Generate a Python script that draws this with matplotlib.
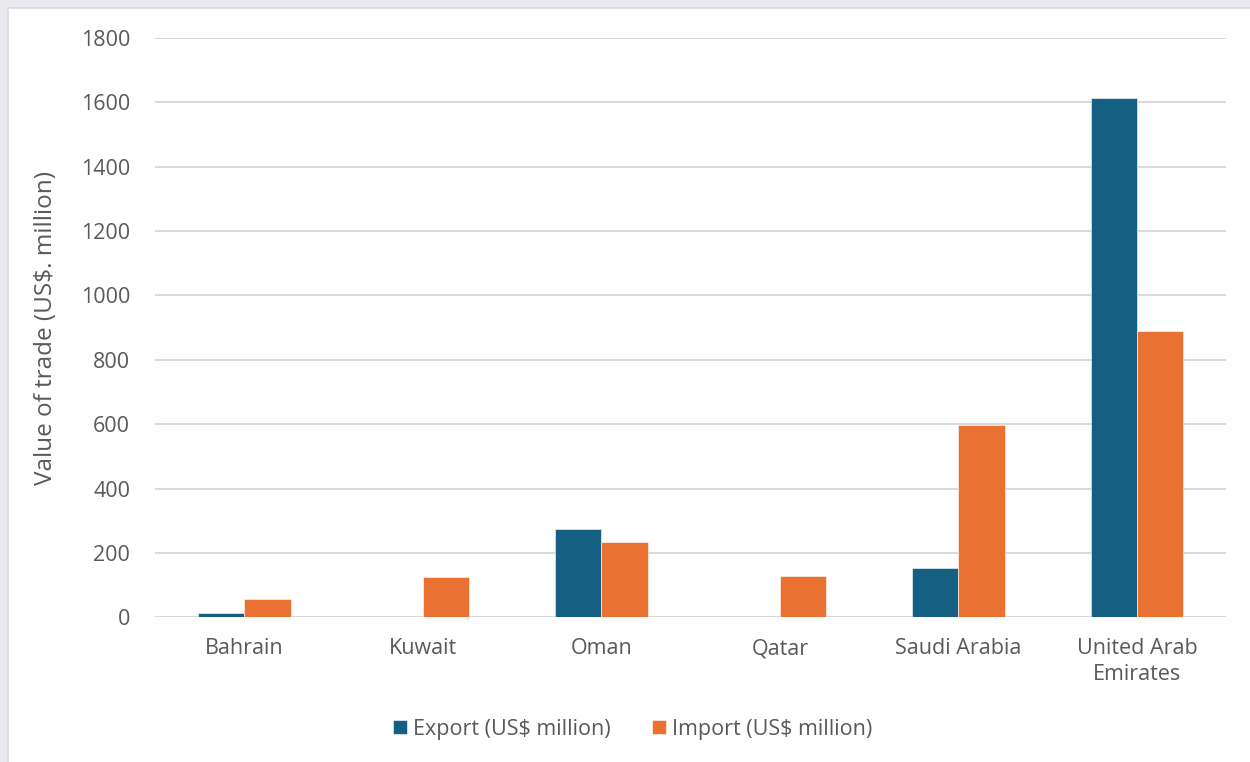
import matplotlib.pyplot as plt
import numpy as np
from matplotlib.patches import Rectangle

countries = ["Bahrain", "Kuwait", "Oman", "Qatar", "Saudi Arabia", "United Arab\nEmirates"]
exports = [12, 2, 273, 2, 153, 1615]
imports = [58, 124, 235, 128, 596, 891]
yticks = [0, 200, 400, 600, 800, 1000, 1200, 1400, 1600, 1800]

BLUE, ORANGE, TXT, GRID = "#156082", "#E97132", "#595959", "#d9d9d9"
plt.rcParams["font.family"] = ["Open Sans", "DejaVu Sans"]

fig = plt.figure(figsize=(12.5, 7.62), dpi=100, facecolor="#e9eaed")
# white panel inside the light grey frame
fig.add_artist(Rectangle((8 / 1250, -0.01), 1, 1.01 - 8 / 762, transform=fig.transFigure,
                         facecolor="white", edgecolor="#d9dadc", lw=1.2, zorder=-5))
ax = fig.add_axes([0.124, 0.190, 0.857, 0.760])
ax.set_facecolor("none")

x = np.arange(len(countries))
w = 0.26
ax.bar(x - w / 2, exports, w, color=BLUE, label="Export (US$ million)", zorder=3,
       edgecolor="white", linewidth=0.4)
ax.bar(x + w / 2, imports, w, color=ORANGE, label="Import (US$ million)", zorder=3,
       edgecolor="white", linewidth=0.4)

ax.set_xlim(-0.5, len(countries) - 0.5)
ax.set_ylim(0, 1800)
ax.set_yticks(yticks)
ax.set_xticks(x)
ax.set_xticklabels(countries, fontsize=15.5, color=TXT, linespacing=1.3)
ax.tick_params(axis="y", labelsize=15.5, labelcolor=TXT, length=0, pad=18)
ax.tick_params(axis="x", length=0, pad=15)
ax.grid(axis="y", color=GRID, lw=1.4, zorder=0)
ax.axhline(0, color=GRID, lw=2, zorder=2)
for s in ax.spines.values():
    s.set_visible(False)

ax.set_ylabel("Value of trade (US$. million)", fontsize=17.5, color=TXT, labelpad=16)

leg = fig.legend(loc="center", bbox_to_anchor=(0.506, 0.043), ncol=2, frameon=False,
                 fontsize=15.5, handlelength=0.65, handleheight=0.65, handletextpad=0.3,
                 columnspacing=1.9, labelcolor=TXT)

fig.savefig("out.png", dpi=100, facecolor=fig.get_facecolor())
